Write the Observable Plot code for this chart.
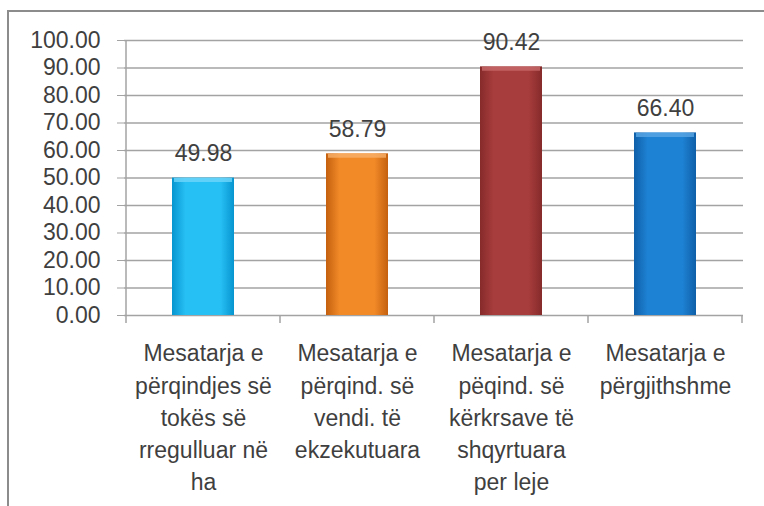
<!DOCTYPE html>
<html><head><meta charset="utf-8">
<script src="https://cdn.jsdelivr.net/npm/d3@7"></script>
<script src="https://cdn.jsdelivr.net/npm/@observablehq/plot@0.6"></script>
<style>
body{margin:0;background:#fff;}
#wrap{position:relative;width:764px;height:506px;overflow:hidden;}
#border{position:absolute;left:7px;top:10px;width:800px;height:600px;border-left:2px solid #8c8c8c;border-top:2px solid #8c8c8c;pointer-events:none;}
#wrap svg{position:absolute;left:0;top:0;}
</style></head><body><div id="wrap"><div id="border"></div></div>
<script>
const categories = [
  "Mesatarja e\npërqindjes së\ntokës së\nrregulluar në\nha",
  "Mesatarja e\npërqind. së\nvendi. të\nekzekutuara",
  "Mesatarja e\npëqind. së\nkërkrsave të\nshqyrtuara\nper leje",
  "Mesatarja e\npërgjithshme"
];
const values = [49.98, 58.79, 90.42, 66.40];
const yTicks = [0, 10, 20, 30, 40, 50, 60, 70, 80, 90, 100];
const palette = [
  ["#0795cf", "#27c0f5", "#6fd6fa"],
  ["#c4600f", "#f28a28", "#f7b06a"],
  ["#862a2a", "#a83d3d", "#c86a6a"],
  ["#0f5fa8", "#1e82d4", "#5aa6e4"]
];

const data = categories.map((c, i) => ({cat: c, value: values[i], i}));
const FONT = "'Liberation Sans', Arial, sans-serif";
const TEXT = "#3f3f3f";
const GRID = "#a3a3a3";

function extras(index, scales) {
  const {x, y} = scales;
  const g = d3.create("svg:g");
  const defs = g.append("defs");
  palette.forEach(([edge, mid], i) => {
    const lg = defs.append("linearGradient").attr("id", "bar" + i)
      .attr("x1", "0").attr("x2", "1").attr("y1", "0").attr("y2", "0");
    lg.append("stop").attr("offset", "0%").attr("stop-color", edge);
    lg.append("stop").attr("offset", "22%").attr("stop-color", mid);
    lg.append("stop").attr("offset", "78%").attr("stop-color", mid);
    lg.append("stop").attr("offset", "100%").attr("stop-color", edge);
  });
  const y0 = y(0), yTop = y(d3.max(yTicks));
  const left = x(categories[0]);
  g.append("line").attr("x1", left).attr("x2", left).attr("y1", yTop).attr("y2", y0 + 8)
    .attr("stroke", GRID).attr("stroke-width", 1.5);
  categories.forEach(c => {
    const b = x(c) + x.bandwidth();
    g.append("line").attr("x1", b).attr("x2", b).attr("y1", y0).attr("y2", y0 + 8)
      .attr("stroke", GRID).attr("stroke-width", 1.5);
  });
  return g.node();
}

const chart = Plot.plot({
  width: 764,
  height: 506,
  marginTop: 40,
  marginLeft: 124,
  marginRight: 21,
  marginBottom: 191,
  style: {fontFamily: FONT, background: "transparent"},
  x: {domain: categories, padding: 0, label: null},
  y: {domain: [0, 100], label: null},
  color: {type: "identity"},
  marks: [
    Plot.ruleY(yTicks, {stroke: GRID, strokeWidth: 1.5}),
    extras,
    Plot.axisY(yTicks, {tickSize: 7, tickPadding: 17, tickFormat: d3.format(".2f"),
      fontSize: 23, stroke: GRID, fill: TEXT, label: null}),
    Plot.axisX({tickSize: 0, tickPadding: 23, fontSize: 23, lineHeight: 1.4,
      fill: TEXT, label: null}),
    Plot.barY(data, {x: "cat", y: "value", fill: d => `url(#bar${d.i})`, insetLeft: 46, insetRight: 46}),
    Plot.tickY(data, {x: "cat", y: "value", stroke: d => palette[d.i][2], strokeWidth: 4,
      dy: 2, insetLeft: 48, insetRight: 48, strokeOpacity: 0.8}),
    Plot.text(data, {x: "cat", y: "value", text: d => d.value.toFixed(2), dy: -24,
      fontSize: 23, fill: TEXT})
  ]
});
document.getElementById("wrap").appendChild(chart);
</script>
</body></html>
